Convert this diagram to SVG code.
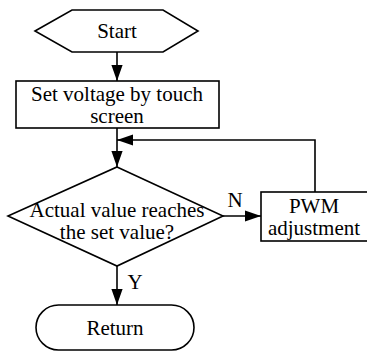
<svg xmlns="http://www.w3.org/2000/svg" width="367" height="351" viewBox="0 0 367 351">
<defs>
<style>
.s{fill:#fff;stroke:#000;stroke-width:1.6}
.l{fill:none;stroke:#000;stroke-width:1.6}
text{font-family:"Liberation Serif","Times New Roman",serif;font-size:21px;fill:#000;text-anchor:middle}
</style>
<marker id="a" viewBox="0 0 10 10" refX="10" refY="5" markerWidth="16" markerHeight="16" markerUnits="userSpaceOnUse" orient="auto">
<path d="M0,1.5 L10,5 L0,8.5 Z" fill="#000"/>
</marker>
</defs>
<g id="connectors">
<line class="l" x1="117" y1="52" x2="117" y2="81" marker-end="url(#a)"/>
<line class="l" x1="117" y1="128" x2="117" y2="167" marker-end="url(#a)"/>
<polyline class="l" points="315,192 315,140 117,140" marker-end="url(#a)"/>
<line class="l" x1="223" y1="216" x2="261" y2="216" marker-end="url(#a)"/>
<line class="l" x1="117" y1="266" x2="117" y2="305" marker-end="url(#a)"/>
<text x="235" y="207">N</text>
<text x="135" y="289">Y</text>
</g>
<g id="start">
<polygon class="s" points="35,31 72,10 163,10 198,31 163,52 72,52"/>
<text x="117" y="38">Start</text>
</g>
<g id="set">
<rect class="s" x="16" y="81" width="203" height="47"/>
<text x="117" y="101">Set voltage by touch</text>
<text x="117" y="123">screen</text>
</g>
<g id="decision">
<polygon class="s" points="117,167 223,216 117,266 8,216"/>
<text x="117" y="217">Actual value reaches</text>
<text x="117" y="239">the set value?</text>
</g>
<g id="pwm">
<rect class="s" x="261" y="192" width="110" height="49"/>
<text x="314" y="213">PWM</text>
<text x="314" y="235">adjustment</text>
</g>
<g id="return">
<rect class="s" x="36" y="305" width="158" height="45" rx="22.5" ry="22.5"/>
<text x="115" y="335">Return</text>
</g>
</svg>
